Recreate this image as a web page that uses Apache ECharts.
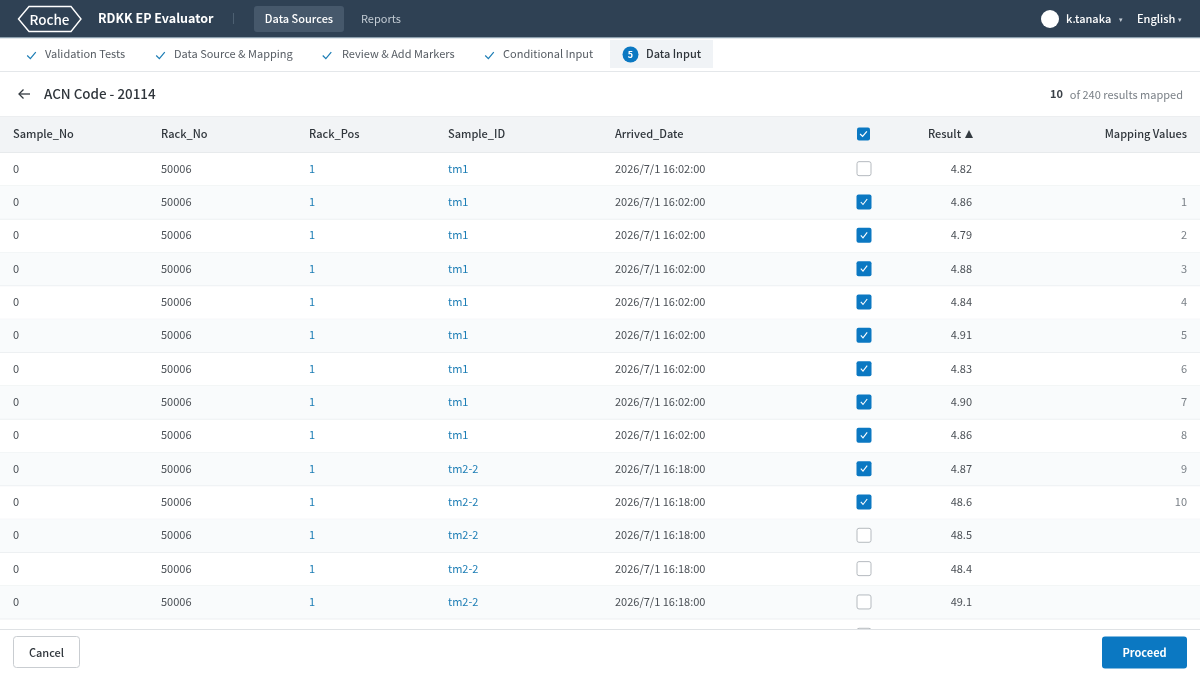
<!DOCTYPE html>
<html>
<head>
<meta charset="utf-8">
<title>RDKK EP Evaluator</title>
<script src="https://cdn.jsdelivr.net/npm/echarts@6/dist/echarts.min.js"></script>
<style>
  html, body { margin: 0; padding: 0; background: #fff; }
  #main { width: 1200px; height: 675px; }
</style>
</head>
<body>
<div id="main"></div>
<script>
var headers = ["Sample_No", "Rack_No", "Rack_Pos", "Sample_ID", "Arrived_Date", "Result", "Mapping Values"];
var sampleNo = [0, 0, 0, 0, 0, 0, 0, 0, 0, 0, 0, 0, 0, 0];
var rackNo = [50006, 50006, 50006, 50006, 50006, 50006, 50006, 50006, 50006, 50006, 50006, 50006, 50006, 50006];
var rackPos = [1, 1, 1, 1, 1, 1, 1, 1, 1, 1, 1, 1, 1, 1];
var sampleId = ["tm1", "tm1", "tm1", "tm1", "tm1", "tm1", "tm1", "tm1", "tm1", "tm2-2", "tm2-2", "tm2-2", "tm2-2", "tm2-2"];
var arrived = ["2026/7/1 16:02:00", "2026/7/1 16:02:00", "2026/7/1 16:02:00", "2026/7/1 16:02:00", "2026/7/1 16:02:00",
  "2026/7/1 16:02:00", "2026/7/1 16:02:00", "2026/7/1 16:02:00", "2026/7/1 16:02:00", "2026/7/1 16:18:00",
  "2026/7/1 16:18:00", "2026/7/1 16:18:00", "2026/7/1 16:18:00", "2026/7/1 16:18:00"];
var results = ["4.82", "4.86", "4.79", "4.88", "4.84", "4.91", "4.83", "4.90", "4.86", "4.87", "48.6", "48.5", "48.4", "49.1"];
var mapping = ["", "1", "2", "3", "4", "5", "6", "7", "8", "9", "10", "", "", ""];
// 15th row is cut off by the footer, only its checkbox shows
var checked = [0, 1, 1, 1, 1, 1, 1, 1, 1, 1, 1, 0, 0, 0, 0];
var steps = ["Validation Tests", "Data Source & Mapping", "Review & Add Markers", "Conditional Input"];

var FONT = '"Noto Sans CJK JP"';
var BLUE = "#0b78c2";
var LINK = "#1c7db5";
var INK = "#4a4f55";
var rowH = 33.33;
var colX = [13, 161, 309, 448, 615, 864, 972, 1187];
var stepX = [27, 156, 322.5, 485];
var stepTextX = [45, 174, 342, 503];

function txt(x, y, text, size, fill, weight, align) {
  return {
    type: "text", z: 120, silent: true,
    style: { x: x, y: y, text: text, fill: fill, align: align || "left", verticalAlign: "middle",
      font: (weight || 400) + " " + size + "px " + FONT }
  };
}
function box(x, y, w, h, fill, r, stroke) {
  return {
    type: "rect", z: 110, silent: true,
    shape: { x: x, y: y, width: w, height: h, r: r || 0 },
    style: { fill: fill, stroke: stroke || null, lineWidth: stroke ? 1 : 0 }
  };
}
function line(pts, stroke, w) {
  return {
    type: "polyline", z: 115, silent: true,
    shape: { points: pts },
    style: { fill: null, stroke: stroke, lineWidth: w || 1 }
  };
}
function checkMark(cx, cy, s, color, w) {
  return line([[cx - 4.5 * s, cy], [cx - 1.2 * s, cy + 3.3 * s], [cx + 4.5 * s, cy - 3.5 * s]], color, w);
}

var chrome = [
  // top bar
  box(0, 0, 1200, 37, "#2f4154"),
  box(0, 37, 1200, 1.2, "#8da0ae"),
  { type: "polygon", z: 115, silent: true,
    shape: { points: [[18.5, 19], [29, 6.5], [71, 6.5], [81, 19], [71, 31.5], [29, 31.5]] },
    style: { fill: null, stroke: "#fff", lineWidth: 1.4 } },
  txt(49.5, 19.5, "Roche", 13.5, "#fff", 500, "center"),
  txt(98, 18, "RDKK EP Evaluator", 12.5, "#fff", 700),
  box(233, 13, 1, 11, "#4d6072"),
  box(254, 6, 90, 26, "#46586b", 3),
  txt(299, 19, "Data Sources", 11, "#fff", 500, "center"),
  txt(361, 19, "Reports", 11, "#c3ccd4"),
  { type: "circle", z: 115, silent: true, shape: { cx: 1050, cy: 19, r: 9 }, style: { fill: "#fff" } },
  txt(1066, 18.5, "k.tanaka", 11, "#fff", 500),
  txt(1120.5, 19, "\u25BE", 7, "#c3ccd4", 400, "center"),
  txt(1137, 18.5, "English", 11, "#fff", 500),
  txt(1180, 19, "\u25BE", 7, "#c3ccd4", 400, "center"),
  // step bar
  box(0, 71, 1200, 1, "#e4e7ea"),
  box(610, 40, 103, 28, "#f0f3f6"),
  { type: "circle", z: 115, silent: true, shape: { cx: 630.5, cy: 54.5, r: 8 }, style: { fill: BLUE } },
  txt(630.5, 54.5, "5", 9, "#fff", 700, "center"),
  txt(646, 54, "Data Input", 11, "#2f353b", 500),
  // title row
  line([[19, 94], [30, 94]], "#333a40", 1.3),
  line([[23.5, 89.5], [19, 94], [23.5, 98.5]], "#333a40", 1.3),
  txt(44, 93.5, "ACN Code - 20114", 13.4, "#2f353b", 500),
  txt(1063, 94, "10", 11, "#3a4047", 700, "right"),
  txt(1183, 95, "of 240 results mapped", 11, "#7a8087", 400, "right"),
  // table header
  box(0, 116, 1200, 36.5, "#f2f4f6"),
  box(0, 116, 1200, 1, "#eceef0"),
  box(0, 152, 1200, 1, "#e7eaec"),
  box(857, 127.5, 13, 13, BLUE, 2),
  checkMark(863.5, 134, 0.75, "#fff", 1.2),
  // footer
  box(0, 629, 1200, 46, "#fff"),
  box(0, 629, 1200, 1, "#dfe2e5"),
  box(13.5, 636.5, 66, 31, "#fff", 3, "#c9cdd1"),
  txt(46.5, 652.5, "Cancel", 11, "#2f353b", 500, "center"),
  box(1102, 636.5, 85, 32, BLUE, 3),
  txt(1144.5, 652.5, "Proceed", 11, "#fff", 700, "center")
];

// header labels, the first five sit in their column and the last two hang right
headers.forEach(function (h, i) {
  if (i < 5) chrome.push(txt(colX[i], 133.5, h, 11, "#2f353b", 500));
});
chrome.push(txt(961, 133.5, headers[5], 11, "#2f353b", 500, "right"));
chrome.push({ type: "polygon", z: 115, silent: true,
  shape: { points: [[965, 138], [973, 138], [969, 130]] }, style: { fill: "#333a40" } });
chrome.push(txt(1187, 133.5, headers[6], 11, "#2f353b", 500, "right"));

steps.forEach(function (s, i) {
  chrome.push(checkMark(stepX[i] + 4.5, 55.5, 0.95, "#1c7db5", 1.2));
  chrome.push(txt(stepTextX[i], 54, s, 11, "#555b62"));
});

function renderRow(params, api) {
  var i = api.value(0);
  var top = api.coord([0, i]);
  var bot = api.coord([1200, i + 1]);
  var mid = (top[1] + bot[1]) / 2;
  var kids = [];
  var cell = function (c, text, fill, align) {
    if (text === undefined || text === "") return;
    kids.push({
      type: "text",
      style: { x: api.coord([colX[c], i])[0], y: mid - 0.6, text: String(text), fill: fill,
        align: align || "left", verticalAlign: "middle", font: "400 11px " + FONT }
    });
  };
  if (i % 2 === 1) {
    kids.push({ type: "rect", shape: { x: 0, y: top[1], width: 1200, height: bot[1] - top[1] }, style: { fill: "#f9fbfc" } });
  }
  kids.push({ type: "rect", shape: { x: 0, y: bot[1] - 0.5, width: 1200, height: 1 }, style: { fill: "#edf0f2" } });
  cell(0, sampleNo[i], INK);
  cell(1, rackNo[i], INK);
  cell(2, rackPos[i], LINK);
  cell(3, sampleId[i], LINK);
  cell(4, arrived[i], INK);
  cell(6, results[i], INK, "right");
  cell(7, mapping[i], "#7a8087", "right");
  var cx = api.coord([colX[5], i])[0];
  if (checked[i]) {
    kids.push({ type: "rect", shape: { x: cx - 7.5, y: mid - 8, width: 15, height: 15, r: 2 }, style: { fill: BLUE } });
    kids.push({ type: "polyline", shape: { points: [[cx - 3.2, mid - 0.5], [cx - 1, mid + 2], [cx + 3.2, mid - 3.5]] },
      style: { fill: null, stroke: "#fff", lineWidth: 1.1 } });
  } else {
    kids.push({ type: "rect", shape: { x: cx - 7, y: mid - 7.5, width: 14, height: 14, r: 2 },
      style: { fill: "#fff", stroke: "#b5babf", lineWidth: 1 } });
  }
  return { type: "group", children: kids };
}

var chart = echarts.init(document.getElementById("main"), null, { renderer: "canvas" });
chart.setOption({
  animation: false,
  backgroundColor: "#fff",
  grid: { left: 0, right: 0, top: 152.5, height: rowH * checked.length },
  xAxis: { type: "value", min: 0, max: 1200, show: false },
  yAxis: { type: "value", min: 0, max: checked.length, inverse: true, show: false },
  graphic: { elements: chrome },
  series: [{
    type: "custom",
    renderItem: renderRow,
    silent: true,
    clip: false,
    encode: { x: 0, y: 0 },
    data: checked.map(function (c, i) { return [i]; })
  }]
});
</script>
</body>
</html>
